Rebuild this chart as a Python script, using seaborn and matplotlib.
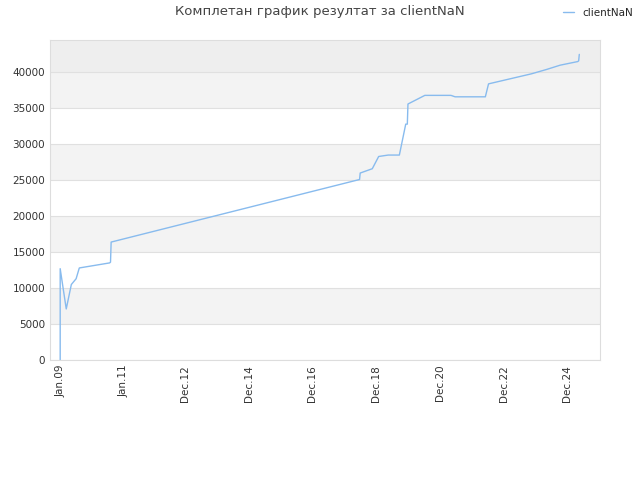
import matplotlib
matplotlib.use("Agg")
import matplotlib.pyplot as plt
import seaborn as sns
import pandas as pd

years = [2009.0, 2009.0, 2009.19, 2009.35, 2009.5, 2009.6, 2010.55, 2010.58, 2010.6,
         2018.4, 2018.42, 2018.8, 2019.0, 2019.3, 2019.65, 2019.85, 2019.9, 2019.92,
         2020.45, 2021.27, 2021.4, 2022.35, 2022.45, 2023.8, 2024.27, 2024.7, 2025.25,
         2025.28, 2025.3]
scores = [0, 12700, 7100, 10500, 11300, 12800, 13500, 13600, 16400,
          25100, 26000, 26600, 28300, 28500, 28500, 32800, 32800, 35600,
          36800, 36800, 36600, 36600, 38400, 39800, 40400, 41000, 41500,
          41600, 42500]
tick_pos = [2009.0, 2011.0, 2012.92, 2014.92, 2016.92, 2018.92, 2020.92, 2022.92, 2024.92]
tick_labels = ["Jan.09", "Jan.11", "Dec.12", "Dec.14", "Dec.16", "Dec.18", "Dec.20", "Dec.22", "Dec.24"]

df = pd.DataFrame({"year": years, "score": scores})
sns.set_style("white")
plt.rcParams["font.family"] = ["DejaVu Sans"]
fig = plt.figure(figsize=(6.4, 4.8), dpi=100)
ax = fig.add_axes([50/640, 1-360/480, 550/640, 320/480])
ymax = 44500
for i, lo in enumerate(range(0, 45000, 5000)):
    if lo >= 40000:
        c = "#eeeeee"
    elif i % 2 == 1:
        c = "#f3f3f3"
    else:
        c = "white"
    ax.axhspan(lo, min(lo+5000, ymax), color=c, zorder=0, lw=0)
sns.lineplot(data=df, x="year", y="score", ax=ax, color="#88bbee", lw=1, label="clientNaN",
             legend=False, estimator=None, sort=False)
ax.set_xlim(2008.68, 2025.95)
ax.set_ylim(0, ymax)
ax.set_yticks(range(0, 45000, 5000))
ax.tick_params(axis="both", labelsize=7.5, colors="#333333", length=0)
ax.set_xticks(tick_pos)
ax.set_xticklabels(tick_labels, rotation=90)
ax.grid(axis="y", color="#e0e0e0", lw=0.8)
ax.set_axisbelow(True)
ax.set_xlabel("")
ax.set_ylabel("")
for s in ax.spines.values():
    s.set_color("#dddddd")
fig.text(0.5, 1-12/480, "Комплетан график резултат за clientNaN", ha="center", va="center", fontsize=9.5, color="#444444")
h, l = ax.get_legend_handles_labels()
fig.legend(h, l, loc="center right", bbox_to_anchor=(1.0, 1-13/480), frameon=False, fontsize=7.5, handlelength=1, borderaxespad=0.3)
fig.savefig("out.png", dpi=100)
